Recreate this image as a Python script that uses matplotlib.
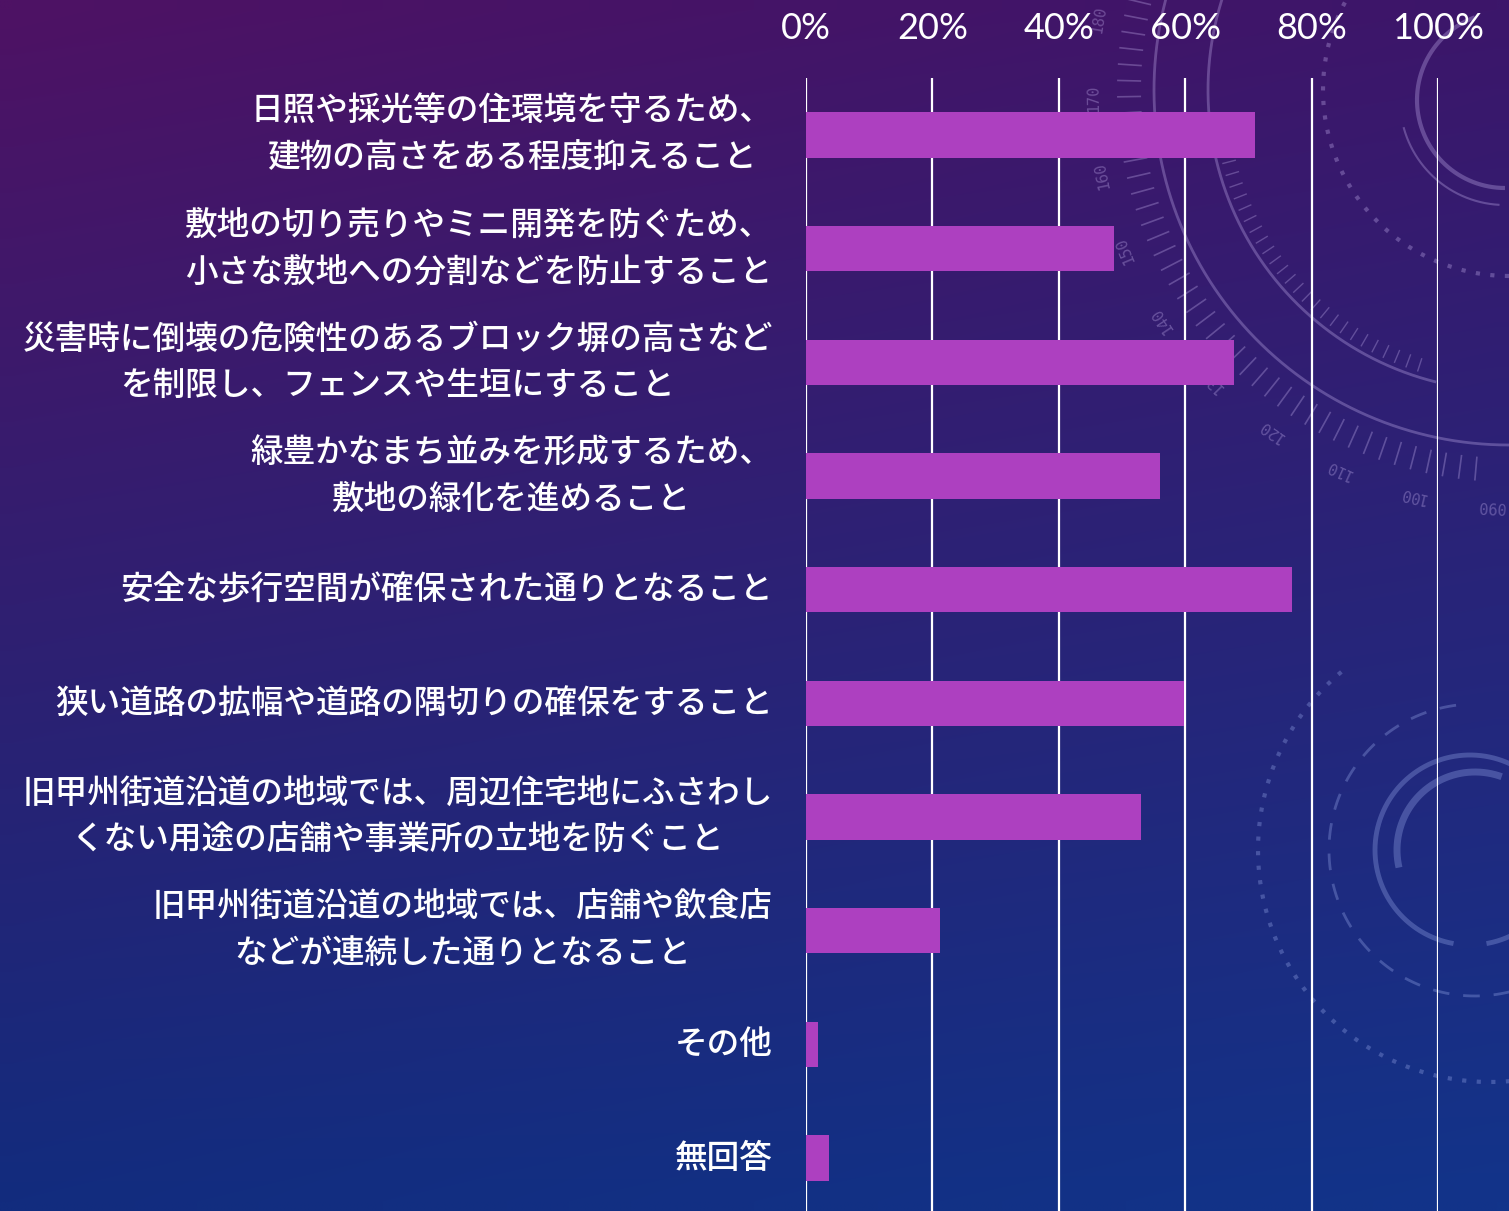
import numpy as np
import matplotlib.pyplot as plt

plt.rcParams['font.family'] = ['Noto Sans CJK JP', 'DejaVu Sans']

# survey items and share of respondents (%)
items = [
    "日照や採光等の住環境を守るため、\n建物の高さをある程度抑えること",
    "敷地の切り売りやミニ開発を防ぐため、\n小さな敷地への分割などを防止すること",
    "災害時に倒壊の危険性のあるブロック塀の高さなど\nを制限し、フェンスや生垣にすること",
    "緑豊かなまち並みを形成するため、\n敷地の緑化を進めること",
    "安全な歩行空間が確保された通りとなること",
    "狭い道路の拡幅や道路の隅切りの確保をすること",
    "旧甲州街道沿道の地域では、周辺住宅地にふさわし\nくない用途の店舗や事業所の立地を防ぐこと",
    "旧甲州街道沿道の地域では、店舗や飲食店\nなどが連続した通りとなること",
    "その他",
    "無回答",
]
shares = [71.1, 48.7, 67.8, 56.0, 76.9, 59.8, 53.0, 21.2, 1.9, 3.7]
ticks = [0, 20, 40, 60, 80, 100]
tick_labels = ["0%", "20%", "40%", "60%", "80%", "100%"]

W, H = 1509, 1211
fig = plt.figure(figsize=(W / 100, H / 100), dpi=100)

# background: purple to blue gradient with faint dial ornaments
bg = fig.add_axes([0, 0, 1, 1], zorder=0)
bg.set_xlim(0, W)
bg.set_ylim(H, 0)
bg.axis('off')

tl = np.array([78, 18, 100]) / 255
tr = np.array([60, 22, 106]) / 255
bl = np.array([18, 44, 126]) / 255
br = np.array([18, 52, 138]) / 255
u = np.linspace(0, 1, 64)[None, :, None]
v = np.linspace(0, 1, 64)[:, None, None]
grad = (1 - v) * ((1 - u) * tl + u * tr) + v * ((1 - u) * bl + u * br)
bg.imshow(grad, extent=(0, W, H, 0), aspect='auto', interpolation='bilinear')


def arc(cx, cy, r, t0, t1, **kw):
    t = np.radians(np.linspace(t0, t1, 300))
    bg.plot(cx + r * np.cos(t), cy + r * np.sin(t), **kw)


deco_top = dict(color='#c9b6f2', alpha=0.32, solid_capstyle='butt')
cx, cy = 1509, 90
arc(cx, cy, 355, 90, 200, lw=2, **deco_top)
arc(cx, cy, 301, 104, 200, lw=2, **deco_top)
arc(cx, cy, 186, 90, 212, lw=3, linestyle=(0, (1, 2.5)), **deco_top)
for a in np.arange(95, 200, 2.4):
    t = np.radians(a)
    bg.plot([cx + 368 * np.cos(t), cx + 392 * np.cos(t)],
            [cy + 368 * np.sin(t), cy + 392 * np.sin(t)], lw=1.2, **deco_top)
for a in np.arange(108, 175, 2.4):
    t = np.radians(a)
    bg.plot([cx + 282 * np.cos(t), cx + 296 * np.cos(t)],
            [cy + 282 * np.sin(t), cy + 296 * np.sin(t)], lw=1.0, **deco_top)
for val in range(90, 190, 10):
    a = 92.5 + (val - 90) * 1.08
    t = np.radians(a)
    bg.text(cx + 416 * np.cos(t), cy + 416 * np.sin(t), f"{val:03d}",
            rotation=-(a + 90), ha='center', va='center', fontsize=11,
            family='DejaVu Sans Mono', color='#c9b6f2', alpha=0.35)
arc(1505, 100, 88, 90, 250, lw=3, **deco_top)
arc(1505, 100, 105, 93, 165, lw=1.5, **deco_top)

deco_low = dict(color='#93a4e6', alpha=0.35, solid_capstyle='butt')
arc(1490, 850, 232, 80, 232, lw=3, linestyle=(0, (1, 2.5)), **deco_low)
arc(1475, 850, 146, 70, 265, lw=2, linestyle=(0, (6, 5)), **deco_low)
arc(1470, 850, 95, 100, 300, lw=3.5, **deco_low)
arc(1470, 850, 95, 20, 80, lw=3.5, **deco_low)
arc(1475, 850, 78, 167, 290, lw=5, **deco_low)

# main chart
ax = fig.add_axes([806 / W, -4 / H, 632 / W, 1137 / H], zorder=1)
ax.patch.set_alpha(0)
y = np.arange(len(items))
ax.barh(y, shares, height=0.4, color='#ad40c0', zorder=3)
ax.set_xlim(0, 100)
ax.set_ylim(len(items) - 0.5, -0.5)

ax.xaxis.tick_top()
ax.set_xticks(ticks)
ax.set_xticklabels(tick_labels, family='Lato', fontsize=26, color='white')
ax.tick_params(axis='x', length=0, pad=24)
ax.grid(axis='x', color='white', lw=1.6, zorder=1)

ax.set_yticks(y)
ax.set_yticklabels(items, fontsize=23.5, color='white', linespacing=1.42,
                   fontweight='medium')
for lab in ax.get_yticklabels():
    lab.set_multialignment('center')
    lab.set_verticalalignment('center')
ax.tick_params(axis='y', length=0, pad=24)

for s in ax.spines.values():
    s.set_visible(False)

fig.savefig('out.png', dpi=100)
